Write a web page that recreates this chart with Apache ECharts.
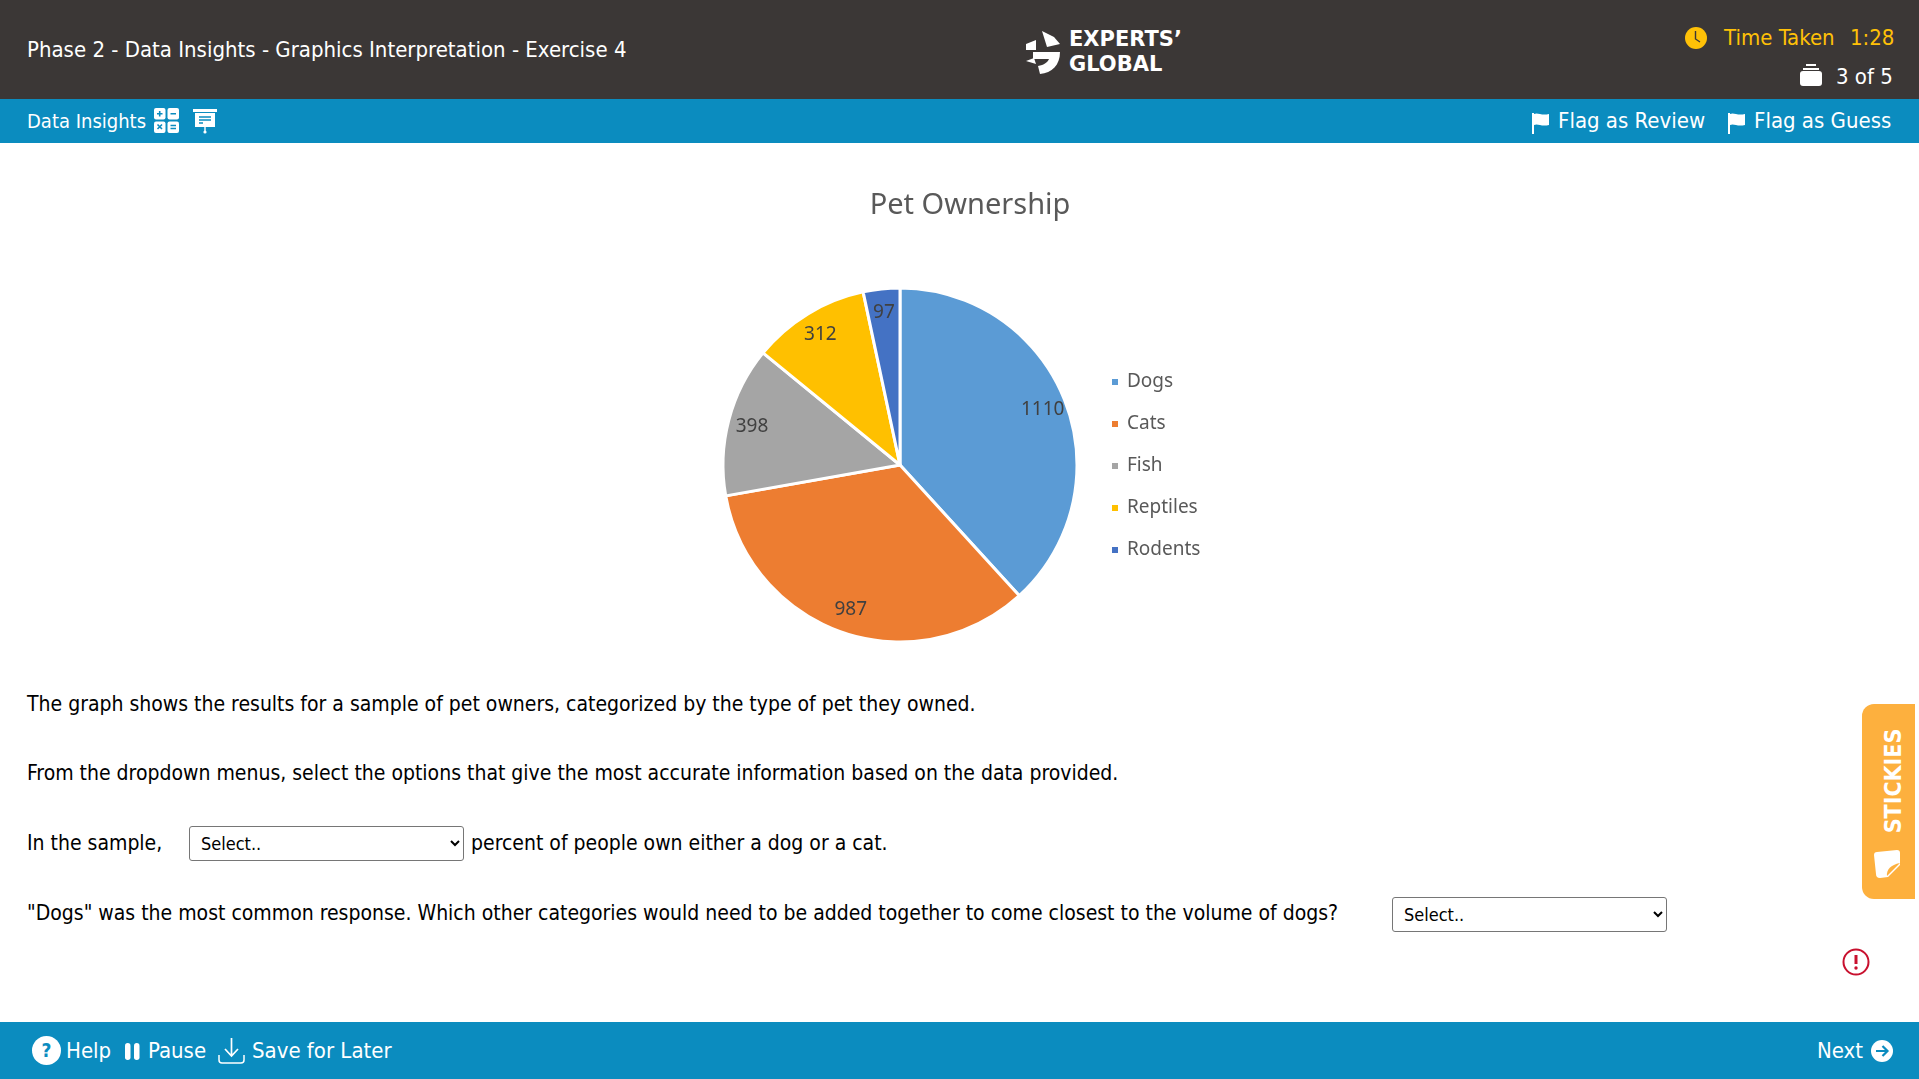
<!DOCTYPE html>
<html>
<head>
    <meta charset="utf-8">
    <title>Pet Ownership</title>
    <script src="https://cdn.jsdelivr.net/npm/echarts@6/dist/echarts.min.js"></script>
    <style>
        html, body { margin: 0; padding: 0; width: 1919px; height: 1079px; overflow: hidden; background: #fff; }
        body { font-family: "DejaVu Sans Condensed", "DejaVu Sans", sans-serif; font-stretch: condensed; font-size: 21px; color: #000; position: relative; }
        .bar, .t, svg, select, #main { position: absolute; }
        .t { white-space: nowrap; line-height: 30px; }
        .w { color: #fff; }
        #top { left: 0; top: 0; width: 1919px; height: 99px; background: #3b3736; }
        #mid { left: 0; top: 99px; width: 1919px; height: 44px; background: #0b8cbf; }
        #bot { left: 0; top: 1022px; width: 1919px; height: 57px; background: #0b8cbf; }
        #main { left: 0; top: 143px; width: 1919px; height: 530px; }
        select { width: 275px; height: 35px; font-family: inherit; font-stretch: condensed; font-size: 18px; background: #fff; color: #000; border: 1px solid #767676; border-radius: 3px; padding-left: 7px; box-sizing: border-box; }
        #stickies { position: absolute; left: 1862px; top: 704px; width: 53px; height: 195px; background: #fdb03e; border-radius: 12px 0 0 12px; }
        #stickiesText { position: absolute; left: 1893px; top: 781px; transform: translate(-50%, -50%) rotate(-90deg); color: #fff; font-family: "DejaVu Sans", sans-serif; font-weight: bold; font-size: 23px; white-space: nowrap; }
    </style>
</head>
<body>
    <div class="bar" id="top"></div>
    <div class="bar" id="mid"></div>
    <div class="bar" id="bot"></div>

    <div class="t w" style="left:27px;top:35px;font-size:22px">Phase 2 - Data Insights - Graphics Interpretation - Exercise 4</div>

    <!-- logo -->
    <svg style="left:1024px;top:29px" width="38" height="46" viewBox="0 0 38 46">
        <path d="M18 2 L30 8 L36 15 L23 18 Z" fill="#fff"/>
        <path d="M2 15 L12 11 L12 21 L2 21 Z" fill="#fff"/>
        <path d="M2 32 L10 29 L12 35 Z" fill="#fff"/>
        <path d="M9 23 L36 23 C36 36 28 44 16 45 L14 37 C20 36 24 33 25 30 L9 30 Z" fill="#fff"/>
    </svg>
    <div class="t w" style="left:1069px;top:24px;font-family:'DejaVu Sans';font-stretch:normal;font-weight:bold;font-size:21px;letter-spacing:0">EXPERTS’</div>
    <div class="t w" style="left:1069px;top:49px;font-family:'DejaVu Sans';font-stretch:normal;font-weight:bold;font-size:21px">GLOBAL</div>

    <svg style="left:1685px;top:27px" width="22" height="22" viewBox="0 0 22 22">
        <circle cx="11" cy="11" r="11" fill="#ffc107"/>
        <path d="M10.5 4 V12 L15 15" stroke="#3b3736" stroke-width="1.4" fill="none"/>
    </svg>
    <div class="t" style="left:1724px;top:23px;color:#ffc107;font-size:22px">Time Taken</div>
    <div class="t" style="left:1850px;top:23px;color:#ffc107;font-size:22px">1:28</div>

    <svg style="left:1800px;top:63px" width="22" height="24" viewBox="0 0 22 24">
        <rect x="6" y="1" width="10" height="2" fill="#fff"/>
        <rect x="3" y="5" width="16" height="2" fill="#fff"/>
        <rect x="0" y="8" width="22" height="15" rx="3" fill="#fff"/>
    </svg>
    <div class="t w" style="left:1836px;top:62px;font-size:22px">3 of 5</div>

    <div class="t w" style="left:27px;top:106px;font-size:20px">Data Insights</div>
    <svg style="left:154px;top:108px" width="25" height="25" viewBox="0 0 25 25">
        <rect x="0" y="0" width="11.5" height="11.5" rx="2" fill="#fff"/>
        <rect x="13.5" y="0" width="11.5" height="11.5" rx="2" fill="#fff"/>
        <rect x="0" y="13.5" width="11.5" height="11.5" rx="2" fill="#fff"/>
        <rect x="13.5" y="13.5" width="11.5" height="11.5" rx="2" fill="#fff"/>
        <path d="M3 5.7 H8.5 M5.7 3 V8.5 M16.5 5.7 H22 M3.5 16.5 L8 21 M8 16.5 L3.5 21 M16.5 17.5 H22 M16.5 20.5 H22" stroke="#0b8cbf" stroke-width="1.6"/>
    </svg>
    <svg style="left:193px;top:109px" width="24" height="25" viewBox="0 0 24 25">
        <rect x="0" y="0" width="24" height="3" fill="#fff"/>
        <rect x="2" y="4" width="20" height="14" fill="#fff"/>
        <path d="M6 8 H18 M6 11 H18 M6 14 H10" stroke="#0b8cbf" stroke-width="1.3"/>
        <path d="M12 18 V23" stroke="#fff" stroke-width="1.4"/>
        <circle cx="12" cy="23" r="1.6" fill="#fff"/>
    </svg>

    <svg style="left:1532px;top:112px" width="18" height="22" viewBox="0 0 18 22">
        <path d="M1 1 V22" stroke="#fff" stroke-width="2"/>
        <path d="M2 2 C6 0 9 4 17 2 V13 C9 15 6 11 2 13 Z" fill="#fff"/>
    </svg>
    <div class="t w" style="left:1558px;top:106px;font-size:22px">Flag as Review</div>
    <svg style="left:1728px;top:112px" width="18" height="22" viewBox="0 0 18 22">
        <path d="M1 1 V22" stroke="#fff" stroke-width="2"/>
        <path d="M2 2 C6 0 9 4 17 2 V13 C9 15 6 11 2 13 Z" fill="#fff"/>
    </svg>
    <div class="t w" style="left:1754px;top:106px;font-size:22px">Flag as Guess</div>

    <!-- the chart -->
    <div id="main"></div>

    <div class="t" style="left:27px;top:689px">The graph shows the results for a sample of pet owners, categorized by the type of pet they owned.</div>
    <div class="t" style="left:27px;top:758px">From the dropdown menus, select the options that give the most accurate information based on the data provided.</div>
    <div class="t" style="left:27px;top:828px">In the sample,</div>
    <select style="left:189px;top:826px"><option>Select..</option></select>
    <div class="t" style="left:471px;top:828px">percent of people own either a dog or a cat.</div>
    <div class="t" style="left:27px;top:898px">"Dogs" was the most common response. Which other categories would need to be added together to come closest to the volume of dogs?</div>
    <select style="left:1392px;top:897px"><option>Select..</option></select>

    <div id="stickies"></div>
    <div id="stickiesText">STICKIES</div>
    <svg style="left:1873px;top:850px" width="28" height="28" viewBox="0 0 28 28">
        <path d="M4 2 L24 0 Q27 0 27 3 L27 15 L15 27 L7 28 Q3 28 3 24 L1 5 Q1 2 4 2 Z" fill="#fff"/>
        <path d="M27 13 L14 26 Q13 16 27 13 Z" fill="#fdb03e"/>
    </svg>

    <svg style="left:1842px;top:948px" width="28" height="28" viewBox="0 0 28 28">
        <circle cx="14" cy="14" r="12.5" fill="none" stroke="#c8102e" stroke-width="2"/>
        <path d="M14 7 V16" stroke="#c8102e" stroke-width="3"/>
        <circle cx="14" cy="20" r="1.7" fill="#c8102e"/>
    </svg>

    <svg style="left:32px;top:1036px" width="29" height="29" viewBox="0 0 29 29">
        <circle cx="14.5" cy="14.5" r="14.5" fill="#fff"/>
        <text x="14.5" y="21" text-anchor="middle" font-family="DejaVu Sans" font-weight="bold" font-size="19" fill="#0b8cbf">?</text>
    </svg>
    <div class="t w" style="left:66px;top:1036px;font-size:22px">Help</div>
    <svg style="left:125px;top:1043px" width="15" height="17" viewBox="0 0 15 17">
        <rect x="0" y="0" width="5.5" height="17" rx="2.7" fill="#fff"/>
        <rect x="9" y="0" width="5.5" height="17" rx="2.7" fill="#fff"/>
    </svg>
    <div class="t w" style="left:148px;top:1036px;font-size:22px">Pause</div>
    <svg style="left:218px;top:1038px" width="27" height="26" viewBox="0 0 27 26">
        <path d="M13.5 0 V17 M7 11 L13.5 18 L20 11" stroke="#fff" stroke-width="1.7" fill="none"/>
        <path d="M1 17 V22 Q1 25 4 25 H23 Q26 25 26 22 V17" stroke="#fff" stroke-width="1.5" fill="none"/>
    </svg>
    <div class="t w" style="left:252px;top:1036px;font-size:22px">Save for Later</div>
    <div class="t w" style="left:1817px;top:1036px;font-size:22px">Next</div>
    <svg style="left:1871px;top:1040px" width="22" height="22" viewBox="0 0 22 22">
        <circle cx="11" cy="11" r="11" fill="#fff"/>
        <path d="M5 11 H16 M11.5 6 L16.5 11 L11.5 16" stroke="#0b8cbf" stroke-width="2.2" fill="none"/>
    </svg>

    <script type="text/javascript">
        var categories = ['Dogs', 'Cats', 'Fish', 'Reptiles', 'Rodents'];
        var owners = [1110, 987, 398, 312, 97];
        var sliceColors = ['#5b9bd5', '#ed7d31', '#a5a5a5', '#ffc000', '#4472c4'];

        var pieData = categories.map(function (name, i) {
            return { name: name, value: owners[i] };
        });

        var chartFont = '"Noto Sans", sans-serif';
        var myChart = echarts.init(document.getElementById('main'));

        myChart.setOption({
            animation: false,
            color: sliceColors,
            title: {
                text: 'Pet Ownership',
                left: 965,
                top: 43,
                textAlign: 'center',
                textStyle: { color: '#595959', fontFamily: chartFont, fontSize: 29, fontWeight: 'normal' }
            },
            legend: {
                orient: 'vertical',
                left: 1105,
                top: 224,
                itemWidth: 8,
                itemHeight: 8,
                itemGap: 22,
                icon: 'rect',
                textStyle: { color: '#595959', fontFamily: chartFont, fontSize: 19, lineHeight: 20, padding: [0, 0, 0, 3] },
                data: categories
            },
            series: [
                {
                    type: 'pie',
                    center: [900, 322],
                    radius: [0, 177],
                    itemStyle: { borderColor: '#fff', borderWidth: 3 },
                    label: { show: false },
                    labelLine: { show: false },
                    data: pieData
                },
                {
                    // 不画扇形，只把数字放到靠外的位置
                    type: 'pie',
                    center: [900, 322],
                    radius: [123, 177],
                    silent: true,
                    itemStyle: { color: 'transparent' },
                    label: {
                        show: true,
                        position: 'inside',
                        formatter: '{c}',
                        color: '#404040',
                        fontFamily: chartFont,
                        fontSize: 19
                    },
                    labelLine: { show: false },
                    data: pieData
                }
            ]
        });
    </script>
</body>
</html>
